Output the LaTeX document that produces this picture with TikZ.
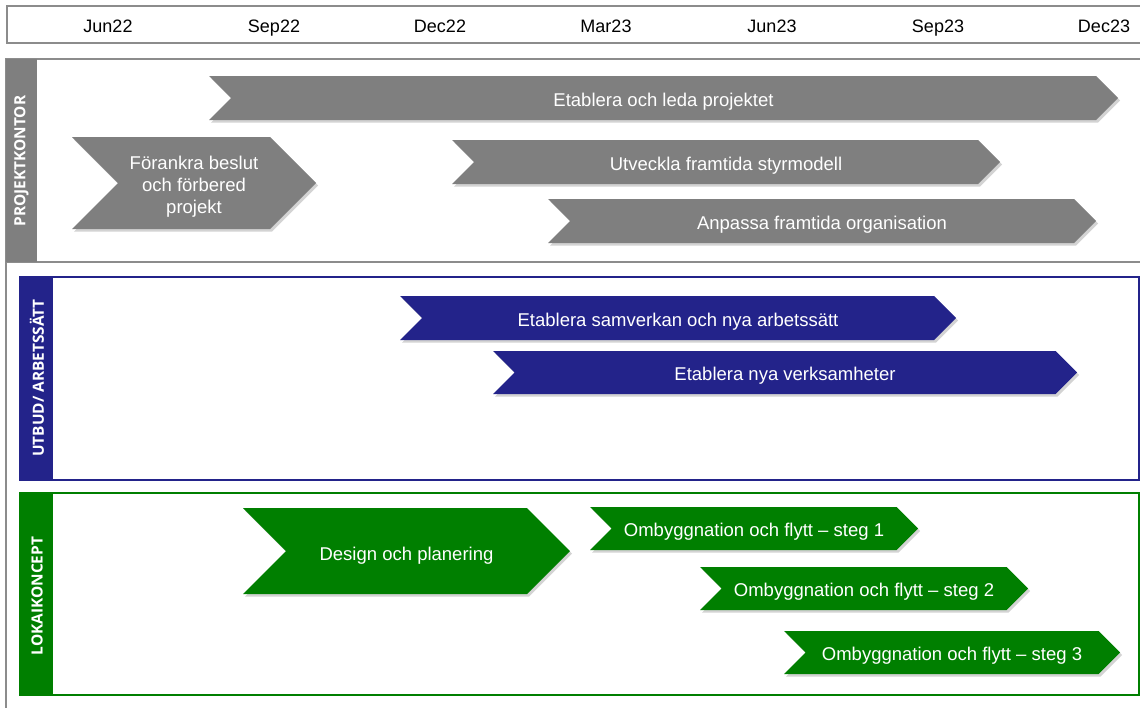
\documentclass[tikz,border=0pt]{standalone}
\usepackage{fontspec}
\setmainfont{Liberation Sans}
\newfontfamily\tabfont{Open Sans}
\usetikzlibrary{shadows}

\definecolor{pkgray}{HTML}{7F7F7F}
\definecolor{linegray}{HTML}{8C8C8C}
\definecolor{ubblue}{HTML}{23238A}
\definecolor{lkgreen}{HTML}{007F00}

% chevron: [baseline below middle], name, colour, left, tip, top, bottom, text
\newcommand{\chev}[8][8]{%
  \pgfmathsetmacro\hh{(#7-#6)/2}
  \fill[#3, chevshadow] (#4,#6) -- (#5-\hh,#6) -- (#5,#6+\hh) -- (#5-\hh,#7)
        -- (#4,#7) -- (#4+\hh,#6+\hh) -- cycle;
  \node[chevtext] (#2) at ({(#4+#5)/2},{(#6+#7)/2+#1}) {#8};
}

\begin{document}
\begin{tikzpicture}[
		x = 1pt,
		y = -1pt,
		line join = miter,
		chevshadow/.style = {drop shadow={opacity=.35, shadow xshift=2pt, shadow yshift=-2.5pt}},
		chevtext/.style = {anchor=base, text=white, align=center, font=\fontsize{18.5}{22}\selectfont},
		month/.style = {anchor=base, font=\fontsize{18}{22}\selectfont},
		tablabel/.style = {rotate=90, text=white, font=\tabfont\bfseries\fontsize{15.4}{17}\selectfont},
		]
\useasboundingbox (0,0) rectangle (1140,707);

% time line
\draw[linegray, line width=2pt]	(7,6) rectangle (1150,43);
\foreach \m [count=\i from 0] in {Jun22,Sep22,Dec22,Mar23,Jun23,Sep23,Dec23}
	\node[month] (m\i) at (108+166*\i,32) {\m};

% lanes
\draw[linegray, line width=2pt]	(1150,59) -- (6,59) -- (6,720)
				(6,262) -- (1150,262);
\fill[pkgray]		(6,59) rectangle (37,262);
\draw[ubblue, line width=2pt]	(20,277) rectangle (1139,480);
\fill[ubblue]		(20,277) rectangle (53,480);
\draw[lkgreen, line width=2pt]	(20,493) rectangle (1139,695);
\fill[lkgreen]		(20,493) rectangle (53,695);

\node[tablabel] (pk) at (21.5,161) {PROJEKTKONTOR};
\node[tablabel] (ub) at (37,378) {UTBUD/ ARBETSSÄTT};
\node[tablabel] (lk) at (37,596) {LOKAIKONCEPT};

% activities
\chev{leda}{pkgray}{209}{1118}{76}{120}{Etablera och leda projektet}
\chev[30]{forankra}{pkgray}{72}{316}{137}{229}{Förankra beslut\\och förbered\\projekt}
\chev{styr}{pkgray}{452}{1000}{140}{184}{Utveckla framtida styrmodell}
\chev{org}{pkgray}{548}{1096}{199}{243}{Anpassa framtida organisation}

\chev{samverkan}{ubblue}{400}{956}{296}{340}{Etablera samverkan och nya arbetssätt}
\chev{verksamh}{ubblue}{493}{1077}{351}{394}{Etablera nya verksamheter}

\chev[9]{design}{lkgreen}{243}{570}{508}{594}{Design och planering}
\chev{steg1}{lkgreen}{590}{918}{507}{550}{Ombyggnation och flytt -- steg 1}
\chev{steg2}{lkgreen}{700}{1028}{567}{610}{Ombyggnation och flytt -- steg 2}
\chev{steg3}{lkgreen}{784}{1120}{631}{674}{Ombyggnation och flytt -- steg 3}
\end{tikzpicture}
\end{document}
